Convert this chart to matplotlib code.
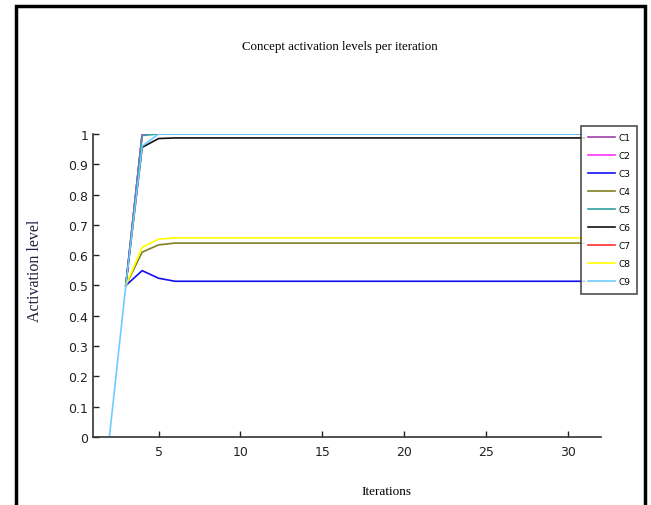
import matplotlib
matplotlib.use("Agg")
import matplotlib.pyplot as plt
from matplotlib.patches import Rectangle

# данные: активации концептов по итерациям (шаг 3..31, C9 с 2)
iters = list(range(3, 32))
iters_c9 = list(range(2, 32))

c1 = [0.5, 1.0, 1.0] + [1.0] * 26
c2 = [0.5, 1.0, 1.0] + [1.0] * 26
c3 = [0.5, 0.549, 0.524, 0.514] + [0.514] * 25
c4 = [0.5, 0.610, 0.634, 0.640] + [0.640] * 25
c5 = [0.5, 0.995, 1.0] + [1.0] * 26
c6 = [0.5, 0.956, 0.985, 0.987] + [0.987] * 25
c7 = [0.5, 1.0, 1.0] + [1.0] * 26
c8 = [0.5, 0.626, 0.653, 0.657] + [0.657] * 25
c9 = [0.0, 0.5, 0.96, 1.0] + [1.0] * 26

labels = ["C1", "C2", "C3", "C4", "C5", "C6", "C7", "C8", "C9"]
colors = ["#a040a8", "#ff30ff", "#1010f0", "#808020", "#30a0a0",
          "#111111", "#ff3030", "#ffff00", "#70ccff"]

fig = plt.figure(figsize=(6.51, 5.06), dpi=100)
ax = fig.add_axes([0.1429, 0.1344, 0.78, 0.5988])

series = [c1, c2, c3, c4, c5, c6, c7, c8]
for vals, lab, col in zip(series, labels[:8], colors[:8]):
    # C7 совпадает с C1/C2 и на картинке не виден - кладем под них
    z = 1.5 if lab == "C7" else 2
    ax.plot(iters, vals, color=col, lw=1.2, label=lab, zorder=z)
ax.plot(iters_c9, c9, color=colors[8], lw=1.2, label=labels[8])

ax.set_xlim(1, 32)
ax.set_ylim(0, 1)
ax.set_xticks([5, 10, 15, 20, 25, 30])
ax.set_yticks([i / 10 for i in range(11)])
ax.set_yticklabels(["0", "0.1", "0.2", "0.3", "0.4", "0.5", "0.6", "0.7", "0.8", "0.9", "1"])
ax.tick_params(direction="in", length=4, width=1, labelsize=9, colors="#222222")
ax.tick_params(axis="x", pad=6)
for lab in ax.get_xticklabels() + ax.get_yticklabels():
    lab.set_family("DejaVu Sans")
ax.spines["top"].set_visible(False)
ax.spines["right"].set_visible(False)
ax.spines["left"].set_color("#333333")
ax.spines["bottom"].set_color("#333333")
ax.spines["left"].set_linewidth(1.2)
ax.spines["bottom"].set_linewidth(1.2)

# подписи
fig.text(0.522, 0.907, "Concept activation levels per iteration",
         family="Liberation Serif", fontsize=9.3, ha="center", va="center")
fig.text(0.593, 0.027, "Iterations", family="Liberation Serif",
         fontsize=9.5, ha="center", va="center")
fig.text(0.054, 0.465, "Activation level", family="Liberation Serif",
         fontsize=11.5, ha="center", va="center", rotation=90, color="#202040")

leg = ax.legend(loc="upper left", bbox_to_anchor=(0.8925, 0.749),
                bbox_transform=fig.transFigure, borderaxespad=0,
                fontsize=6.5, handlelength=3.0, handletextpad=0.3,
                labelspacing=1.0, borderpad=0.8, frameon=True, fancybox=False)
leg.get_frame().set_edgecolor("#222222")
leg.get_frame().set_linewidth(1.2)
for t in leg.get_texts():
    t.set_family("Liberation Sans Narrow")

# внешняя рамка
fig.patches.append(Rectangle((16 / 651, -0.02), 629 / 651, 1.02 - 7 / 506,
                             transform=fig.transFigure, fill=False,
                             edgecolor="black", lw=2.5))

fig.savefig("out.png", dpi=100)
